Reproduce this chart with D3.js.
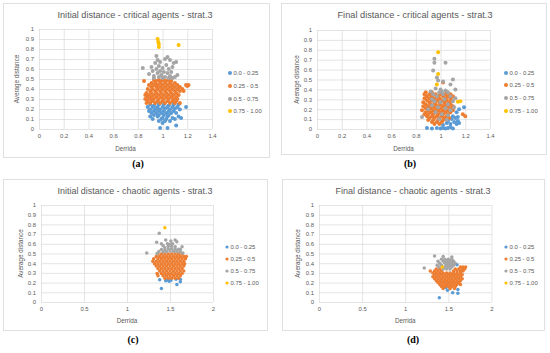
<!DOCTYPE html>
<html>
<head>
<meta charset="utf-8">
<script src="https://cdn.jsdelivr.net/npm/d3@7"></script>
<style>
  body { margin: 0; background: #fff; }
  svg { display: block; }
</style>
</head>
<body>
<div id="chart"></div>
<script>
// ---- shared labels ----
const seriesNames = ["0.0 - 0.25", "0.25 - 0.5", "0.5 - 0.75", "0.75 - 1.00"];
const seriesColors = ["#5b9bd5", "#ed7d31", "#a5a5a5", "#ffc000"];
const yTicks = [0, 0.1, 0.2, 0.3, 0.4, 0.5, 0.6, 0.7, 0.8, 0.9, 1];
const xTicksCritical = [0, 0.2, 0.4, 0.6, 0.8, 1, 1.2, 1.4];
const xTicksChaotic = [0, 0.5, 1, 1.5, 2];

// dense clouds are written row by row: [y, x1, x2, ...]
function rows(list) {
  return list.flatMap(([yv, ...xs]) => xs.map(xv => [xv, yv]));
}

// ---- (a) initial distance, critical agents ----
const aBlue = rows([
  [0.245, 0.90, 0.97, 1.01, 1.09, 1.13],
  [0.235, 0.93, 1.05],
  [0.22, 0.88, 0.92, 0.96, 1.00, 1.04, 1.08, 1.12, 1.19],
  [0.205, 0.95, 1.02, 1.10],
  [0.195, 0.90, 0.94, 0.98, 1.06, 1.14],
  [0.18, 0.89, 0.93, 0.97, 1.01, 1.05, 1.09],
  [0.16, 0.91, 0.95, 0.99, 1.03, 1.07, 1.11],
  [0.14, 0.93, 0.97, 1.01, 1.05],
  [0.125, 0.90, 0.96, 1.04, 1.13],
  [0.11, 1.00, 1.08, 1.15],
  [0.10, 0.92, 0.99, 1.03, 1.10],
  [0.08, 0.97, 1.02, 1.06],
  [0.06, 1.00],
  [0.035, 1.11],
  [0.01, 0.98, 1.04]
]);
const aOrange = rows([
  [0.49, 0.93, 0.97, 1.01, 1.05],
  [0.48, 0.85, 0.95, 0.99, 1.03, 1.07],
  [0.46, 0.91, 0.94, 0.98, 1.02, 1.06, 1.10],
  [0.44, 0.89, 0.93, 0.96, 1.00, 1.04, 1.08, 1.12, 1.19, 1.21],
  [0.43, 1.20],
  [0.42, 0.91, 0.95, 0.98, 1.02, 1.06, 1.10, 1.14],
  [0.40, 0.88, 0.92, 0.96, 1.00, 1.04, 1.08, 1.12, 1.16],
  [0.38, 0.90, 0.94, 0.98, 1.02, 1.06, 1.10, 1.14, 1.17],
  [0.36, 0.87, 0.91, 0.95, 0.99, 1.03, 1.07, 1.11],
  [0.34, 0.86, 0.89, 0.93, 0.97, 1.01, 1.05, 1.09, 1.13],
  [0.32, 0.88, 0.91, 0.95, 0.99, 1.03, 1.07, 1.11],
  [0.30, 0.86, 0.90, 0.93, 0.97, 1.01, 1.05, 1.09, 1.12],
  [0.28, 0.88, 0.92, 0.96, 1.00, 1.04, 1.08, 1.11],
  [0.26, 0.87, 0.90, 0.94, 0.98, 1.02, 1.06, 1.10, 1.14]
]);
const aGray = [
  [0.84, 0.61], [0.89, 0.55], [0.91, 0.62], [0.92, 0.58], [0.93, 0.53], [0.94, 0.66],
  [0.95, 0.73], [0.95, 0.60], [0.96, 0.56], [0.97, 0.52], [0.97, 0.63], [0.98, 0.58],
  [0.99, 0.54], [1.00, 0.61], [1.01, 0.57], [1.02, 0.70], [1.02, 0.52], [1.03, 0.64],
  [1.04, 0.72], [1.04, 0.56], [1.05, 0.60], [1.06, 0.53], [1.07, 0.57], [1.08, 0.62],
  [1.09, 0.66], [1.10, 0.52], [1.11, 0.67], [1.12, 0.54], [0.93, 0.51], [1.00, 0.51],
  [1.05, 0.51], [0.98, 0.67], [1.06, 0.69], [0.96, 0.69], [1.08, 0.51]
];
const aYellow = [[0.96, 0.90], [0.965, 0.87], [0.97, 0.85], [0.97, 0.82], [1.13, 0.84]];

// ---- (b) final distance, critical agents ----
const bBlue = [
  [0.89, 0.01], [0.93, 0.005], [0.97, 0.01], [1.00, 0.005], [1.02, 0.01], [1.04, 0.005],
  [1.06, 0.01], [1.10, 0.005], [1.02, 0.04], [1.05, 0.06], [1.08, 0.05], [1.11, 0.07],
  [1.13, 0.05], [1.14, 0.08], [1.15, 0.06], [1.09, 0.10], [1.12, 0.11], [1.10, 0.13],
  [1.14, 0.12], [1.19, 0.22], [1.13, 0.17], [1.15, 0.20], [1.06, 0.08], [1.08, 0.02]
];
const bOrange = rows([
  [0.47, 1.02],
  [0.37, 0.88, 0.93, 1.05],
  [0.35, 0.87, 0.91, 0.96, 1.00, 1.04, 1.08],
  [0.33, 0.89, 0.93, 0.98, 1.02, 1.06, 1.10],
  [0.31, 0.87, 0.91, 0.95, 0.99, 1.04, 1.08],
  [0.29, 0.89, 0.93, 0.97, 1.01, 1.05, 1.09],
  [0.27, 0.86, 0.91, 0.95, 0.99, 1.03, 1.07],
  [0.25, 0.88, 0.92, 0.96, 1.00, 1.04, 1.08],
  [0.23, 0.86, 0.90, 0.94, 0.98, 1.02, 1.06, 1.10],
  [0.21, 0.88, 0.92, 0.96, 1.00, 1.04, 1.08],
  [0.19, 0.85, 0.90, 0.94, 0.98, 1.02, 1.06, 1.10],
  [0.17, 0.88, 0.92, 0.96, 1.00, 1.04, 1.08],
  [0.15, 0.87, 0.90, 0.94, 0.98, 1.02, 1.06, 1.18],
  [0.13, 0.89, 0.93, 0.97, 1.01, 1.05, 1.20],
  [0.11, 0.91, 0.95, 0.99, 1.03, 1.07],
  [0.09, 0.90, 0.94, 0.98, 1.02],
  [0.07, 0.93, 0.97, 1.01],
  [0.05, 0.95, 0.99]
]);
const bGray = [
  [0.95, 0.71], [0.95, 0.67], [1.04, 0.67], [0.94, 0.59], [0.97, 0.52], [1.02, 0.48],
  [1.10, 0.50], [1.08, 0.45], [1.12, 0.40], [0.98, 0.49], [0.96, 0.41], [1.00, 0.40],
  [1.04, 0.39], [0.92, 0.38], [0.99, 0.37], [1.06, 0.37], [1.02, 0.35], [0.97, 0.33],
  [1.08, 0.33], [1.03, 0.30], [0.95, 0.28], [1.00, 0.27], [1.10, 0.28], [1.06, 0.25],
  [0.93, 0.24], [0.98, 0.22], [1.04, 0.21], [1.08, 0.19], [0.96, 0.17], [1.01, 0.15],
  [1.06, 0.14], [0.90, 0.20], [0.85, 0.12], [0.99, 0.10], [1.05, 0.09], [0.93, 0.30],
  [1.11, 0.22], [0.94, 0.35], [1.01, 0.38], [1.12, 0.31]
];
const bYellow = [[0.98, 0.775], [0.98, 0.555], [0.97, 0.45], [1.14, 0.275], [1.16, 0.28]];

// ---- (c) initial distance, chaotic agents ----
const cBlue = [
  [1.38, 0.23], [1.40, 0.14], [1.45, 0.22], [1.47, 0.23], [1.49, 0.215],
  [1.51, 0.225], [1.58, 0.18], [1.62, 0.21], [1.62, 0.235], [1.57, 0.235]
];
const cOrange = rows([
  [0.495, 1.36, 1.40, 1.44, 1.48, 1.52, 1.56, 1.60, 1.64],
  [0.47, 1.34, 1.38, 1.42, 1.46, 1.50, 1.54, 1.58, 1.62, 1.66, 1.69],
  [0.445, 1.31, 1.36, 1.40, 1.44, 1.48, 1.52, 1.56, 1.60, 1.64, 1.68],
  [0.42, 1.30, 1.34, 1.38, 1.42, 1.46, 1.50, 1.54, 1.58, 1.62, 1.66],
  [0.395, 1.32, 1.36, 1.40, 1.44, 1.48, 1.52, 1.56, 1.60, 1.64, 1.67],
  [0.37, 1.34, 1.38, 1.42, 1.46, 1.50, 1.54, 1.58, 1.62, 1.66],
  [0.345, 1.36, 1.40, 1.44, 1.48, 1.52, 1.56, 1.60, 1.64],
  [0.32, 1.38, 1.42, 1.46, 1.50, 1.54, 1.58, 1.62, 1.66],
  [0.295, 1.35, 1.40, 1.44, 1.48, 1.52, 1.56, 1.60, 1.64],
  [0.27, 1.36, 1.42, 1.46, 1.50, 1.54, 1.58, 1.62],
  [0.245, 1.44, 1.48, 1.52, 1.56, 1.60]
]);
const cGray = [
  [1.23, 0.505], [1.375, 0.71], [1.345, 0.615], [1.40, 0.60], [1.45, 0.64], [1.51, 0.63],
  [1.56, 0.64], [1.58, 0.62], [1.64, 0.57], [1.62, 0.54], [1.42, 0.58], [1.47, 0.60],
  [1.50, 0.595], [1.53, 0.60], [1.44, 0.56], [1.48, 0.575], [1.52, 0.575], [1.56, 0.57],
  [1.40, 0.54], [1.44, 0.535], [1.48, 0.55], [1.52, 0.55], [1.56, 0.545], [1.60, 0.545],
  [1.37, 0.52], [1.42, 0.515], [1.46, 0.52], [1.50, 0.525], [1.54, 0.52], [1.58, 0.52],
  [1.62, 0.515], [1.35, 0.50], [1.65, 0.505]
];
const cYellow = [[1.44, 0.765]];

// ---- (d) final distance, chaotic agents ----
const dBlue = [
  [1.395, 0.045], [1.49, 0.12], [1.55, 0.096], [1.61, 0.09], [1.61, 0.13],
  [1.60, 0.385], [1.47, 0.15]
];
const dOrange = rows([
  [0.36, 1.64, 1.67, 1.70],
  [0.34, 1.36, 1.40, 1.58, 1.62, 1.66, 1.69],
  [0.32, 1.29, 1.34, 1.38, 1.42, 1.56, 1.60, 1.64, 1.67],
  [0.30, 1.32, 1.36, 1.40, 1.44, 1.48, 1.52, 1.56, 1.60, 1.64],
  [0.28, 1.34, 1.38, 1.42, 1.46, 1.50, 1.54, 1.58, 1.62, 1.66],
  [0.26, 1.32, 1.36, 1.40, 1.44, 1.48, 1.52, 1.56, 1.60, 1.64],
  [0.24, 1.34, 1.38, 1.42, 1.46, 1.50, 1.54, 1.58, 1.62, 1.66],
  [0.22, 1.36, 1.40, 1.44, 1.48, 1.52, 1.56, 1.60, 1.64],
  [0.20, 1.38, 1.42, 1.46, 1.50, 1.54, 1.58, 1.62],
  [0.18, 1.40, 1.44, 1.48, 1.52, 1.56, 1.60, 1.64],
  [0.16, 1.42, 1.46, 1.50, 1.54, 1.58],
  [0.14, 1.44, 1.52, 1.57]
]);
const dGray = rows([
  [0.474, 1.34], [0.47, 1.44], [0.465, 1.54],
  [0.44, 1.42, 1.46, 1.50, 1.54],
  [0.42, 1.38, 1.44, 1.48, 1.52, 1.56],
  [0.40, 1.40, 1.46, 1.50, 1.54, 1.58],
  [0.38, 1.37, 1.42, 1.48, 1.52, 1.56],
  [0.36, 1.39, 1.46, 1.50, 1.54],
  [0.35, 1.22],
  [0.34, 1.44, 1.48, 1.52]
]);
const dYellow = [[1.43, 0.36]];

// ---- drawing ----
const W = 550, H = 353;
const svg = d3.select("#chart").append("svg")
  .attr("width", W)
  .attr("height", H);
svg.append("rect").attr("width", W).attr("height", H).attr("fill", "#fff");

const FONT = "'Liberation Sans', Arial, sans-serif";
const TXT = "#595959";
const GRID = "#d9d9d9";

function drawPanel(p) {
  const g = svg.append("g");

  // chart border
  g.append("rect")
    .attr("x", p.box[0] + 0.5).attr("y", p.box[1] + 0.5)
    .attr("width", p.box[2]).attr("height", p.box[3])
    .attr("fill", "#fff").attr("stroke", GRID).attr("stroke-width", 0.8);

  const x = d3.scaleLinear().domain([0, p.xMax]).range([p.left, p.right]);
  const y = d3.scaleLinear().domain([0, 1]).range([p.bottom, p.top]);

  // horizontal gridlines + y labels
  g.append("g")
    .attr("transform", `translate(${p.left},0)`)
    .call(d3.axisLeft(y).tickValues(yTicks).tickSize(-(p.right - p.left)).tickPadding(5).tickFormat(d => String(d)))
    .call(a => a.select(".domain").remove())
    .call(a => a.selectAll("line").attr("stroke", GRID).attr("stroke-width", 0.7))
    .call(a => a.selectAll("text").attr("fill", TXT).attr("font-size", 5.9).attr("font-family", FONT));

  // vertical gridlines + x labels
  g.append("g")
    .attr("transform", `translate(0,${p.bottom})`)
    .call(d3.axisBottom(x).tickValues(p.xTicks).tickSize(-(p.bottom - p.top)).tickPadding(5).tickFormat(d => String(d)))
    .call(a => a.select(".domain").remove())
    .call(a => a.selectAll("line").attr("stroke", GRID).attr("stroke-width", 0.7))
    .call(a => a.selectAll("text").attr("fill", TXT).attr("font-size", 5.9).attr("font-family", FONT));

  // points, in series order so later series sit on top
  p.series.forEach((pts, i) => {
    g.append("g").selectAll("circle")
      .data(pts)
      .join("circle")
      .attr("cx", d => x(d[0]))
      .attr("cy", d => y(d[1]))
      .attr("r", p.r)
      .attr("fill", seriesColors[i]);
  });

  // title
  g.append("text")
    .attr("x", p.titleX).attr("y", p.titleY)
    .attr("text-anchor", "middle")
    .attr("font-family", FONT).attr("font-size", 9).attr("fill", TXT)
    .attr("textLength", 155).attr("lengthAdjust", "spacingAndGlyphs")
    .text(p.title);

  // axis titles
  g.append("text")
    .attr("x", (p.left + p.right) / 2).attr("y", p.xTitleY)
    .attr("text-anchor", "middle")
    .attr("font-family", FONT).attr("font-size", 6.3).attr("fill", TXT)
    .text("Derrida");
  g.append("text")
    .attr("transform", `translate(${p.yTitleX},${(p.top + p.bottom) / 2}) rotate(-90)`)
    .attr("text-anchor", "middle")
    .attr("font-family", FONT).attr("font-size", 6.3).attr("fill", TXT)
    .text("Average distance");

  // legend
  const leg = g.append("g");
  seriesNames.forEach((name, i) => {
    const ly = p.legY[i];
    leg.append("circle")
      .attr("cx", p.legX).attr("cy", ly).attr("r", p.legR)
      .attr("fill", seriesColors[i]);
    leg.append("text")
      .attr("x", p.legX + 3.5).attr("y", ly + 2)
      .attr("font-family", FONT).attr("font-size", 5.9).attr("fill", TXT)
      .text(name);
  });

  // sub-figure label
  g.append("text")
    .attr("x", p.capX).attr("y", p.capY)
    .attr("text-anchor", "middle")
    .attr("font-family", "'Liberation Serif', 'Times New Roman', serif")
    .attr("font-weight", "bold").attr("font-size", 10).attr("fill", "#000")
    .text(p.caption);
}

const panels = [
  {
    title: "Initial distance - critical agents - strat.3", caption: "(a)",
    box: [3, 3, 266, 154], left: 39, right: 212, top: 29, bottom: 129,
    xMax: 1.4, xTicks: xTicksCritical, r: 2, legR: 2,
    titleX: 135, titleY: 18, xTitleY: 151, yTitleX: 19,
    legX: 230, legY: [73, 86, 99, 111], capX: 138, capY: 167,
    series: [aBlue, aOrange, aGray, aYellow]
  },
  {
    title: "Final distance - critical agents - strat.3", caption: "(b)",
    box: [281, 3, 265, 151], left: 317, right: 490, top: 30, bottom: 129,
    xMax: 1.4, xTicks: xTicksCritical, r: 2, legR: 2,
    titleX: 415, titleY: 18, xTitleY: 151, yTitleX: 299,
    legX: 506, legY: [73, 85, 98, 111], capX: 410, capY: 167,
    series: [bBlue, bOrange, bGray, bYellow]
  },
  {
    title: "Initial distance - chaotic agents - strat.3", caption: "(c)",
    box: [3, 179, 264, 151], left: 41, right: 213, top: 205, bottom: 302,
    xMax: 2, xTicks: xTicksChaotic, r: 1.75, legR: 1.6,
    titleX: 135, titleY: 194, xTitleY: 323, yTitleX: 23,
    legX: 227, legY: [247, 259, 271, 283], capX: 133, capY: 343,
    series: [cBlue, cOrange, cGray, cYellow]
  },
  {
    title: "Final distance - chaotic agents - strat.3", caption: "(d)",
    box: [282, 179, 262, 151], left: 319, right: 491.5, top: 205, bottom: 302,
    xMax: 2, xTicks: xTicksChaotic, r: 1.75, legR: 1.6,
    titleX: 413, titleY: 194, xTitleY: 323, yTitleX: 300,
    legX: 506, legY: [247, 259, 271, 283], capX: 413, capY: 343,
    series: [dBlue, dOrange, dGray, dYellow]
  }
];

panels.forEach(drawPanel);
</script>
</body>
</html>
